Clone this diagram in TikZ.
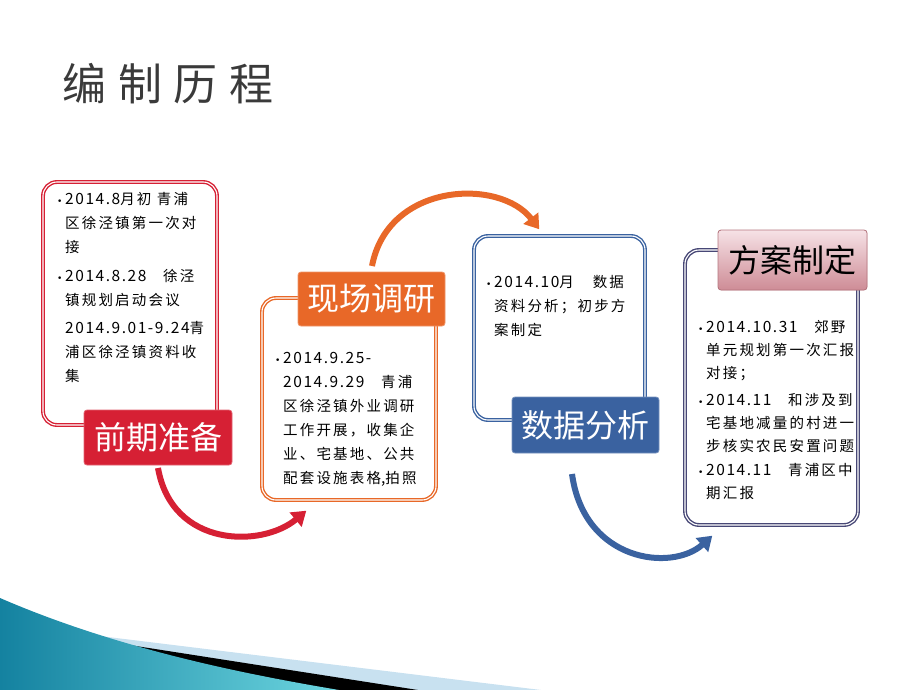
\documentclass[tikz,border=0pt]{standalone}
\usepackage{fontspec}
\setmainfont{Noto Sans CJK SC}
\newfontfamily\bodyfont[LetterSpace=15]{Noto Sans CJK SC}
\newfontfamily\numfont[LetterSpace=10]{Noto Sans CJK SC}
\newfontfamily\dotfont{DejaVu Sans}
\newfontfamily\headfont[LetterSpace=26]{Noto Sans CJK SC}
\usetikzlibrary{positioning, arrows.meta}

\definecolor{prepred}{RGB}{214,32,52}
\definecolor{fieldorange}{RGB}{232,104,40}
\definecolor{datablue}{RGB}{58,98,160}
\definecolor{planslate}{RGB}{72,72,118}
\definecolor{plantop}{RGB}{246,226,230}
\definecolor{planbottom}{RGB}{206,140,150}
\definecolor{planedge}{RGB}{150,60,72}
\definecolor{titlegray}{RGB}{58,58,58}
\definecolor{waveteal}{RGB}{20,130,160}
\definecolor{wavelight}{RGB}{200,225,240}

\newcommand{\itm}{\makebox[8pt][l]{\dotfont\fontsize{9}{9}\selectfont •}}
\newcommand{\ind}{\hspace*{8pt}}
\newcommand{\nm}[1]{{\numfont\fontsize{15.5}{24}\selectfont #1}}

\tikzset{
  stagebox/.style={draw=#1, line width=1.4pt, double=white, double distance=1.1pt,
                   rounded corners=14pt, fill=white, inner sep=0pt},
  stagelabel/.style={fill=#1, draw=#1!70!white, line width=0.8pt, rounded corners=3pt,
                     text=white, font=\fontsize{32}{32}\selectfont, inner sep=0pt},
  stagetext/.style={anchor=north west, align=left, inner sep=0pt,
                    font=\bodyfont\fontsize{14.5}{24}\selectfont},
  flow/.style={draw=#1, line width=6pt, -{Triangle[length=14pt,width=18pt]}}
}

\begin{document}
\begin{tikzpicture}[x=1pt, y=-1pt]
        \useasboundingbox (0,0) rectangle (920,690);

        % Bottom corner wave
        \fill[wavelight] (0,598) -- (59,631) -- (541,690) -- (0,690) -- cycle;
        \fill[black] (0,610) -- (59,634) -- (418,690) -- (0,690) -- cycle;
        \shade[left color=waveteal, right color=waveteal!55!cyan!60!white]
              (0,598) .. controls (120,650) and (250,675) .. (339,690) -- (0,690) -- cycle;

        % Title
        \node[text=titlegray, font=\headfont\fontsize{44}{44}\selectfont] (title) at (168,84) {编制历程};

        % Boxes
        \node[stagebox=prepred, minimum width=174pt, minimum height=243pt] (box1) at (130,303.5) {};
        \node[stagebox=fieldorange, minimum width=174pt, minimum height=202pt] (box2) at (349,399) {};
        \node[stagebox=datablue, minimum width=171pt, minimum height=184pt] (box3) at (559.5,328) {};
        \node[stagebox=planslate, minimum width=173pt, minimum height=275pt] (box4) at (771.5,387.5) {};

        % Texts
        \node[stagetext] (txt1) at (57,192) {%
          \itm \nm{2014.8}月初 青浦\\
          \ind 区徐泾镇第一次对\\
          \ind 接\\[5pt]
          \itm \nm{2014.8.28}　徐泾\\
          \ind 镇规划启动会议\\[4pt]
          \ind \nm{2014.9.01-9.24}青\\
          \ind 浦区徐泾镇资料收\\
          \ind 集};
        \node[stagetext] (txt2) at (275,352) {%
          \itm \nm{2014.9.25-}\\
          \ind \nm{2014.9.29}　青浦\\
          \ind 区徐泾镇外业调研\\
          \ind 工作开展，收集企\\
          \ind 业、宅基地、公共\\
          \ind 配套设施表格\nm{,}拍照};
        \node[stagetext] (txt3) at (486,275) {%
          \itm \nm{2014.10}月　数据\\
          \ind 资料分析；初步方\\
          \ind 案制定};
        \node[stagetext, font=\bodyfont\fontsize{14.5}{23}\selectfont] (txt4) at (698,320) {%
          \itm \nm{2014.10.31}　郊野\\
          \ind 单元规划第一次汇报\\
          \ind 对接；\\[4pt]
          \itm \nm{2014.11}　和涉及到\\
          \ind 宅基地减量的村进一\\
          \ind 步核实农民安置问题\\[1pt]
          \itm \nm{2014.11}　青浦区中\\
          \ind 期汇报};

        % Edges
        \draw[flow=prepred] (158,468) .. controls (172,548) and (262,548) .. ([xshift=45pt,yshift=-10pt]box2.south west);
        \draw[flow=fieldorange] (372,266) .. controls (388,182) and (500,178) .. ([xshift=66pt,yshift=6pt]box3.north west);
        \draw[flow=datablue] (572,474) .. controls (584,562) and (672,572) .. ([xshift=28pt,yshift=-10pt]box4.south west);

        % Labels
        \node[stagelabel=prepred, minimum width=148pt, minimum height=55pt] (lab1) at (158,437.5) {前期准备};
        \node[stagelabel=fieldorange, minimum width=147pt, minimum height=54pt] (lab2) at (371.5,299) {现场调研};
        \node[stagelabel=datablue, minimum width=147pt, minimum height=56pt] (lab3) at (585.5,425) {数据分析};
        \node[stagelabel=planedge, text=black, top color=plantop, bottom color=planbottom,
              minimum width=149pt, minimum height=60pt] (lab4) at (792.5,260) {方案制定};
    \end{tikzpicture}
\end{document}
